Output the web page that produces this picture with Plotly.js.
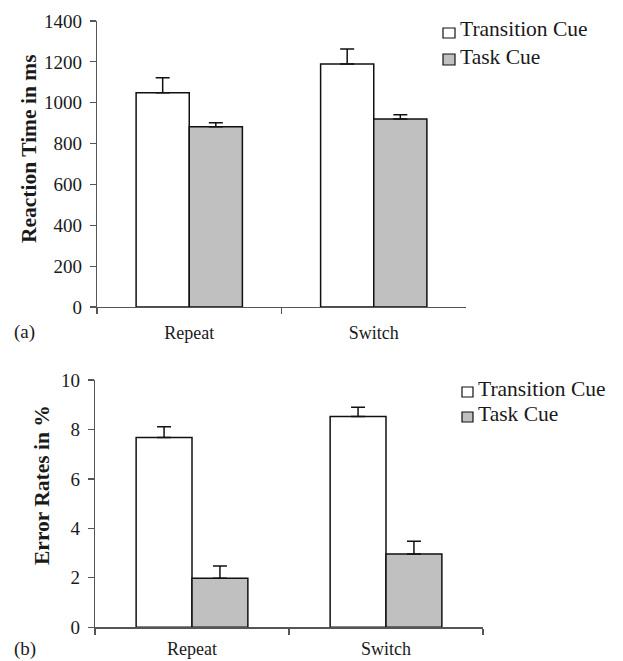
<!DOCTYPE html>
<html>
<head>
<meta charset="utf-8">
<script src="https://cdn.plot.ly/plotly-3.0.1.min.js"></script>
<style>html,body{margin:0;padding:0;background:#fff;}#chart{width:623px;height:661px;}</style>
</head>
<body>
<div id="chart"></div>
<script>
const categories = ['Repeat', 'Switch'];
const seriesNames = ['Transition Cue', 'Task Cue'];
const rtTransition = [1049, 1189];
const rtTransitionErr = [73, 74];
const rtTask = [882, 920];
const rtTaskErr = [20, 21];
const erTransition = [7.67, 8.52];
const erTransitionErr = [0.44, 0.38];
const erTask = [1.98, 2.96];
const erTaskErr = [0.5, 0.52];
const rtTicks = [0, 200, 400, 600, 800, 1000, 1200, 1400];
const erTicks = [0, 2, 4, 6, 8, 10];
const panelLabels = ['(a)', '(b)'];
const yTitles = ['Reaction Time in ms', 'Error Rates in %'];

const FONT = 'Liberation Serif, Times New Roman, serif';
const TXT = '#1a1a1a';
const AX = '#555';
const fills = ['#ffffff', '#c0c0c0'];
const W = 623, H = 661;
const px = v => v / W;
const py = v => 1 - v / H;

function errBar(arr) {
  return {type: 'data', symmetric: false, array: arr, arrayminus: arr.map(() => 0),
          color: '#111', thickness: 1.5, width: 7};
}
function bar(y, err, i, xa, ya) {
  return {type: 'bar', x: categories, y: y, name: seriesNames[i], xaxis: xa, yaxis: ya,
    marker: {color: fills[i], line: {color: '#111', width: 1.5}},
    error_y: errBar(err), showlegend: false, hoverinfo: 'none'};
}

const data = [
  bar(rtTransition, rtTransitionErr, 0, 'x', 'y'),
  bar(rtTask, rtTaskErr, 1, 'x', 'y'),
  bar(erTransition, erTransitionErr, 0, 'x2', 'y2'),
  bar(erTask, erTaskErr, 1, 'x2', 'y2')
];

function xax(l, r, anchor, standoff) {
  return {domain: [px(l), px(r)], type: 'category', range: [-0.5, 1.5], tickson: 'boundaries', anchor: anchor,
    ticks: 'outside', ticklen: 6, tickcolor: AX, tickwidth: 1.2, showline: true, linecolor: AX, linewidth: 1.2,
    showgrid: false, zeroline: false, tickfont: {family: FONT, size: 18, color: TXT},
    ticklabelstandoff: standoff, automargin: false, fixedrange: true};
}
function yax(top, bot, range, ticks, anchor) {
  return {domain: [py(bot), py(top)], range: range, tickvals: ticks, ticktext: ticks.map(String),
    ticks: 'outside', ticklen: 6, tickcolor: AX, tickwidth: 1.2, showline: true, linecolor: AX, linewidth: 1.2,
    showgrid: false, zeroline: false, tickfont: {family: FONT, size: 19, color: TXT},
    ticklabelstandoff: 4, automargin: false, anchor: anchor, fixedrange: true};
}

// legend drawn with shapes + annotations
const legendSpec = [
  {tx: 458, ty: [29.5, 56.8], sq: [[443, 28, 455, 38], [443, 54, 455, 65]]},
  {tx: 476, ty: [389.2, 414.2], sq: [[462, 387, 473, 397], [462, 412, 473, 422]]}
];
const shapes = [];
const annotations = [];
legendSpec.forEach(L => {
  seriesNames.forEach((name, i) => {
    const s = L.sq[i];
    shapes.push({type: 'rect', xref: 'paper', yref: 'paper', x0: px(s[0]), x1: px(s[2]), y0: py(s[3]), y1: py(s[1]),
      fillcolor: fills[i], line: {color: '#111', width: 1.2}});
    annotations.push({text: name, xref: 'paper', yref: 'paper', x: px(L.tx), y: py(L.ty[i]),
      xanchor: 'left', yanchor: 'middle', showarrow: false, font: {family: FONT, size: 21.5, color: TXT}});
  });
});
annotations.push(
  {text: panelLabels[0], xref: 'paper', yref: 'paper', x: px(24), y: py(332), xanchor: 'center', yanchor: 'middle',
   showarrow: false, font: {family: FONT, size: 19, color: TXT}},
  {text: panelLabels[1], xref: 'paper', yref: 'paper', x: px(25), y: py(649), xanchor: 'center', yanchor: 'middle',
   showarrow: false, font: {family: FONT, size: 19, color: TXT}},
  {text: '<b>' + yTitles[0] + '</b>', xref: 'paper', yref: 'paper', x: px(29), y: py(149), xanchor: 'center', yanchor: 'middle',
   textangle: -90, showarrow: false, font: {family: FONT, size: 21.5, color: TXT}},
  {text: '<b>' + yTitles[1] + '</b>', xref: 'paper', yref: 'paper', x: px(42), y: py(485), xanchor: 'center', yanchor: 'middle',
   textangle: -90, showarrow: false, font: {family: FONT, size: 21.5, color: TXT}}
);

const layout = {
  width: W, height: H,
  margin: {l: 0, r: 0, t: 0, b: 0},
  paper_bgcolor: '#fff', plot_bgcolor: '#fff',
  barmode: 'group', bargap: 0.424, bargroupgap: 0,
  showlegend: false,
  xaxis: xax(97, 466, 'y', 9),
  yaxis: yax(21, 307, [0, 1400], rtTicks, 'x'),
  xaxis2: xax(95, 483, 'y2', 5),
  yaxis2: yax(380, 627.3, [0, 10], erTicks, 'x2'),
  shapes: shapes,
  annotations: annotations
};

Plotly.newPlot('chart', data, layout, {staticPlot: true, displayModeBar: false});
</script>
</body>
</html>
